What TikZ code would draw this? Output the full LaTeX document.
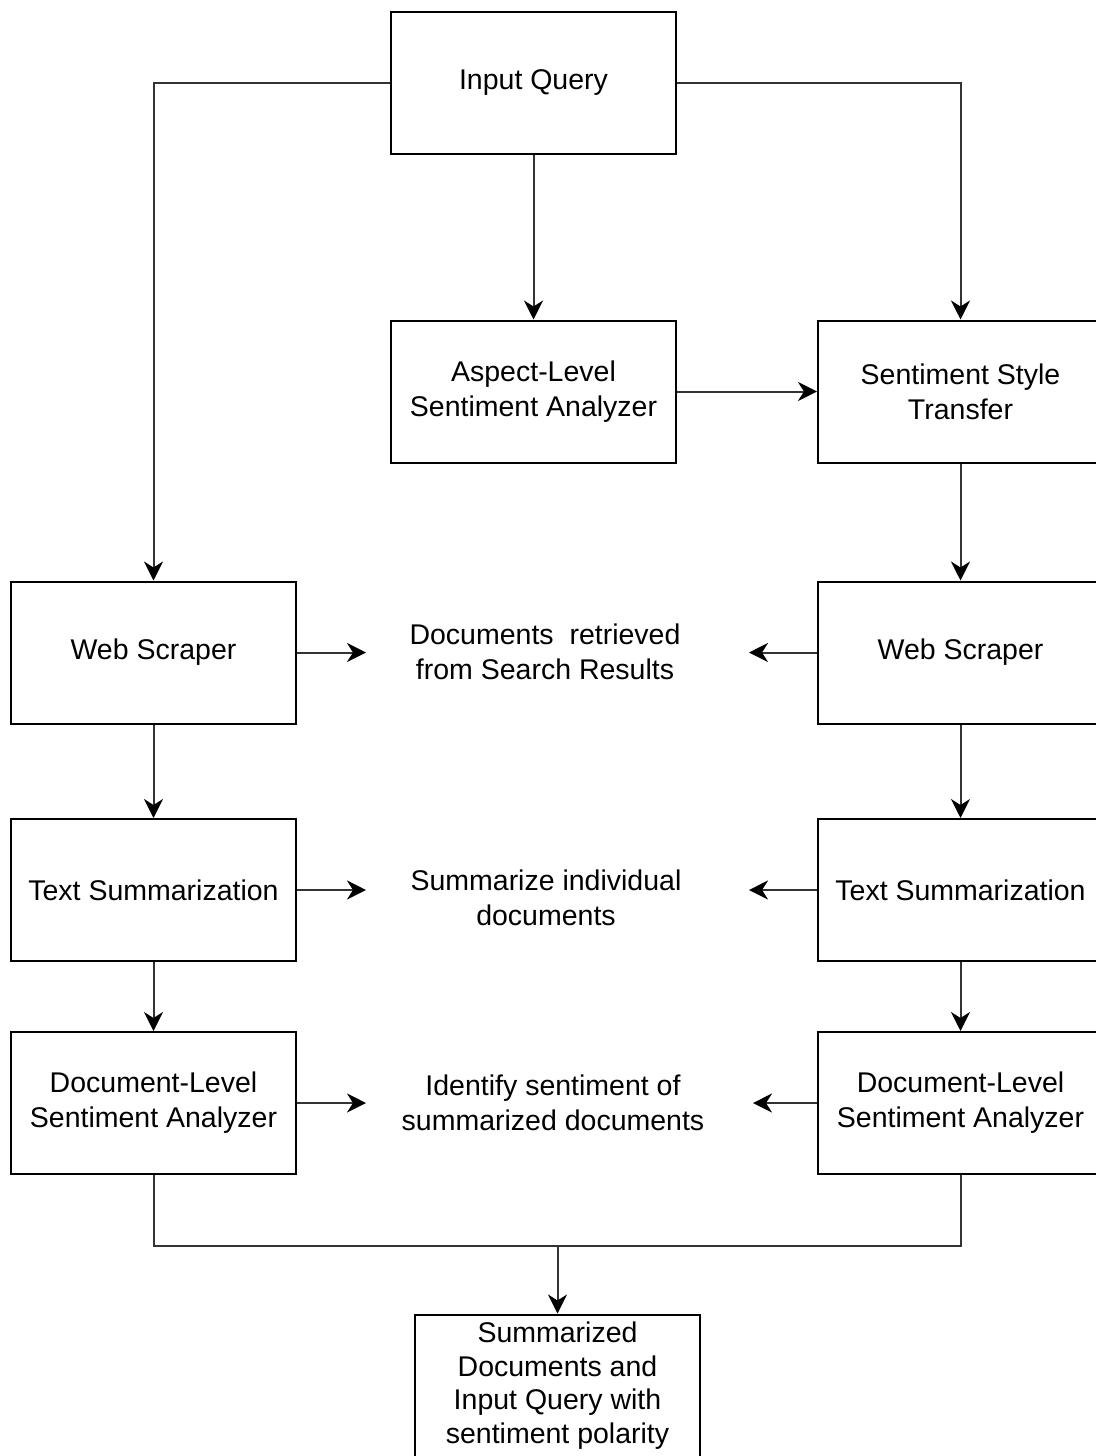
\documentclass[tikz,border=0pt]{standalone}
\usepackage{fontspec}
\setmainfont{Liberation Sans}
\usetikzlibrary{arrows.meta}
\begin{document}
\begin{tikzpicture}[x=1pt,y=-1pt,
  box/.style={draw=black, line width=2pt, minimum width=285pt, minimum height=142pt,
    inner sep=0pt, align=center, font=\fontsize{28.5}{35}\selectfont, text=black},
  lbl/.style={align=center, inner sep=0pt, font=\fontsize{28.5}{35}\selectfont, text=black},
  link/.style={draw=black!80, line width=2pt},
  arr/.style={link, -{Stealth[length=19pt, width=19pt, inset=6pt, color=black]}}]
\useasboundingbox (0,0) rectangle (1095,1456);

% process boxes
\node[box] (iq)  at (533.5,83)   {Input Query};
\node[box] (asp) at (533.5,391.5) {Aspect-Level\\Sentiment Analyzer};
\node[box] (sst) at (960.5,391.5) {Sentiment Style\\Transfer};
\node[box] (wsL) at (153.5,652.5) {Web Scraper};
\node[box] (wsR) at (960.5,652.5) {Web Scraper};
\node[box] (tsL) at (153.5,890)   {Text Summarization};
\node[box] (tsR) at (960.5,890)   {Text Summarization};
\node[box] (dlL) at (153.5,1103)  {Document-Level\\Sentiment Analyzer};
\node[box] (dlR) at (960.5,1103)  {Document-Level\\Sentiment Analyzer};
\node[box, font=\fontsize{28.5}{33.5}\selectfont] (fin) at (557.5,1385.5)
  {Summarized\\Documents and\\Input Query with\\sentiment polarity};

% step descriptions between the two branches
\node[lbl] (d1) at (545,652)  {Documents\ \ retrieved\\from Search Results};
\node[lbl] (d2) at (546,898)  {Summarize individual\\documents};
\node[lbl] (d3) at (553,1103) {Identify sentiment of\\summarized documents};

% short pointers towards the descriptions
\coordinate (p1L) at (366,652.5);  \coordinate (p1R) at (749,652.5);
\coordinate (p2L) at (366,890);    \coordinate (p2R) at (749,890);
\coordinate (p3L) at (366,1103);   \coordinate (p3R) at (753,1103);
\draw[arr] (wsL.east) -- (p1L);
\draw[arr] (wsR.west) -- (p1R);
\draw[arr] (tsL.east) -- (p2L);
\draw[arr] (tsR.west) -- (p2R);
\draw[arr] (dlL.east) -- (p3L);
\draw[arr] (dlR.west) -- (p3R);

% main flow
\draw[arr] (iq.west) -| (wsL.north);
\draw[arr] (iq.east) -| (sst.north);
\draw[arr] (iq.south) -- (asp.north);
\draw[arr] (asp.east) -- (sst.west);
\draw[arr] (sst.south) -- (wsR.north);
\draw[arr] (wsL.south) -- (tsL.north);
\draw[arr] (tsL.south) -- (dlL.north);
\draw[arr] (wsR.south) -- (tsR.north);
\draw[arr] (tsR.south) -- (dlR.north);

% merge of both branches
\coordinate (j) at (557.5,1246);
\draw[link] (dlL.south) |- (j) -| (dlR.south);
\draw[arr] (j) -- (fin.north);
\end{tikzpicture}
\end{document}
